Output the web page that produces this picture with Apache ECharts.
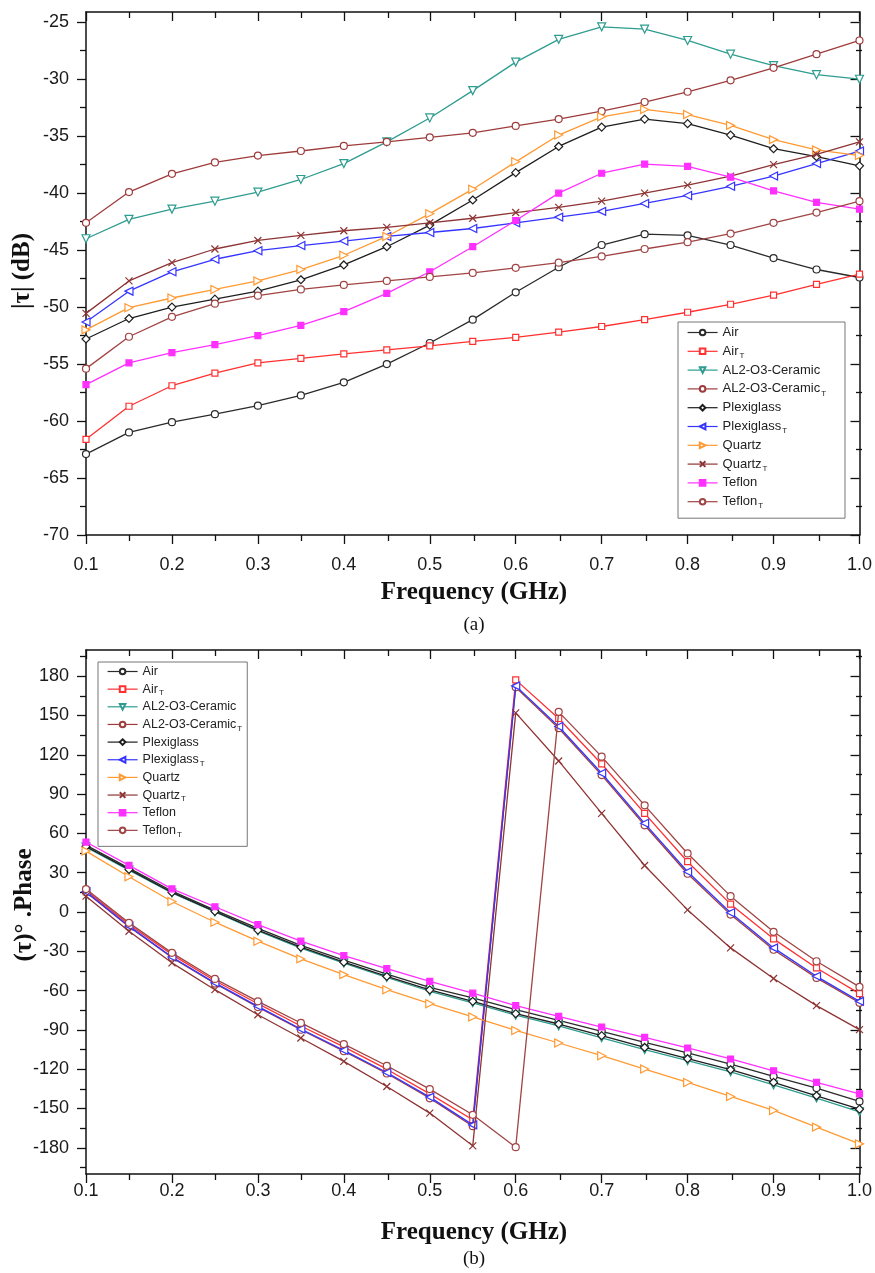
<!DOCTYPE html>
<html><head><meta charset="utf-8">
<script src="https://cdn.jsdelivr.net/npm/echarts@6/dist/echarts.min.js"></script>
<style>html,body{margin:0;padding:0;background:#fff}#c{width:875px;height:1273px}</style>
</head><body><div id="c"></div><script>
// ---------- data ----------
const freq = [0.1,0.15,0.2,0.25,0.3,0.35,0.4,0.45,0.5,0.55,0.6,0.65,0.7,0.75,0.8,0.85,0.9,0.95,1.0];

const seriesNames = ['Air','Air_T','AL2-O3-Ceramic','AL2-O3-Ceramic_T','Plexiglass','Plexiglass_T','Quartz','Quartz_T','Teflon','Teflon_T'];

// (a) |tau| in dB
const magAir        = [-62.9,-61.0,-60.1,-59.4,-58.65,-57.75,-56.6,-55.0,-53.15,-51.1,-48.7,-46.5,-44.55,-43.6,-43.7,-44.55,-45.7,-46.7,-47.4];
const magAirT       = [-61.6,-58.7,-56.9,-55.8,-54.9,-54.5,-54.1,-53.75,-53.4,-53.0,-52.65,-52.2,-51.7,-51.1,-50.45,-49.75,-48.95,-48.0,-47.1];
const magCeramic    = [-44.0,-42.3,-41.4,-40.7,-39.9,-38.8,-37.4,-35.5,-33.4,-31.0,-28.5,-26.5,-25.4,-25.6,-26.6,-27.8,-28.8,-29.6,-30.0];
const magCeramicT   = [-42.6,-39.9,-38.3,-37.3,-36.7,-36.3,-35.85,-35.5,-35.1,-34.7,-34.1,-33.5,-32.8,-32.0,-31.1,-30.1,-29.0,-27.8,-26.6];
const magPlexi      = [-52.8,-51.0,-50.0,-49.3,-48.6,-47.6,-46.3,-44.7,-42.8,-40.6,-38.2,-35.9,-34.2,-33.5,-33.9,-34.9,-36.1,-36.8,-37.6];
const magPlexiT     = [-51.3,-48.6,-46.9,-45.8,-45.05,-44.6,-44.2,-43.8,-43.45,-43.1,-42.6,-42.1,-41.6,-40.9,-40.2,-39.4,-38.5,-37.4,-36.3];
const magQuartz     = [-52.0,-50.05,-49.2,-48.45,-47.7,-46.7,-45.45,-43.8,-41.8,-39.65,-37.25,-34.9,-33.3,-32.65,-33.1,-34.05,-35.3,-36.2,-36.7];
const magQuartzT    = [-50.55,-47.7,-46.1,-44.9,-44.15,-43.7,-43.3,-43.0,-42.6,-42.2,-41.7,-41.25,-40.7,-40.0,-39.3,-38.5,-37.5,-36.6,-35.5];
const magTeflon     = [-56.8,-54.9,-54.0,-53.3,-52.5,-51.6,-50.4,-48.8,-46.9,-44.7,-42.4,-40.0,-38.25,-37.45,-37.65,-38.6,-39.8,-40.8,-41.4];
const magTeflonT    = [-55.4,-52.6,-50.85,-49.7,-49.0,-48.45,-48.05,-47.7,-47.35,-47.0,-46.55,-46.1,-45.55,-44.9,-44.3,-43.55,-42.6,-41.7,-40.7];

// (b) phase in degrees
const phAir         = [51.0,33.5,16.0,1.5,-12.5,-25.5,-36.8,-47.5,-57.5,-65.6,-74.5,-82.7,-91.1,-99.5,-107.6,-116.1,-125.5,-134.4,-144.6];
const phAirT        = [16.5,-9.5,-32.5,-52.5,-70.0,-87.0,-103.0,-120.0,-138.8,-158.6,177.2,147.7,113.0,75.3,38.4,6.0,-20.5,-42.7,-62.3];
const phCeramic     = [49.5,32.0,14.5,0.0,-14.5,-27.5,-39.0,-50.0,-60.5,-69.3,-78.8,-87.0,-96.0,-105.0,-113.5,-122.0,-132.0,-142.0,-152.5];
const phCeramicT    = [15.0,-11.2,-34.8,-54.6,-72.6,-89.9,-106.3,-123.3,-142.2,-163.5,171.5,140.3,104.5,66.2,29.2,-2.0,-28.8,-50.3,-69.3];
const phPlexi       = [50.0,32.5,15.0,0.5,-13.8,-26.8,-38.3,-49.2,-59.5,-68.2,-77.6,-85.5,-94.4,-103.4,-112.0,-120.4,-130.1,-140.3,-150.5];
const phPlexiT      = [15.5,-10.8,-34.3,-54.1,-72.0,-89.3,-105.6,-122.5,-141.3,-162.5,172.6,141.6,105.9,67.7,30.7,-0.6,-27.4,-49.1,-68.2];
const phQuartz      = [46.5,26.9,8.0,-7.8,-22.3,-35.8,-47.8,-59.3,-70.0,-80.1,-90.4,-100.0,-109.7,-119.9,-130.1,-140.8,-151.5,-164.2,-177.0];
const phQuartzT     = [12.1,-14.7,-38.8,-59.3,-78.4,-96.2,-114.0,-133.2,-153.5,-178.5,152.0,115.3,75.3,35.5,1.6,-27.4,-50.8,-71.5,-89.8];
const phTeflon      = [53.4,35.6,17.7,4.0,-9.6,-22.3,-33.3,-43.2,-52.9,-62.0,-71.5,-79.7,-87.8,-95.7,-103.8,-112.2,-121.2,-130.1,-138.8];
const phTeflonT     = [17.5,-8.3,-31.2,-51.1,-68.2,-84.7,-100.8,-117.4,-135.2,-154.8,-179.5,152.8,118.6,81.4,44.7,12.1,-15.1,-37.6,-57.2];

// tick labels
const freqTicks      = [0.1,0.2,0.3,0.4,0.5,0.6,0.7,0.8,0.9,1.0];
const freqMinorTicks = [0.15,0.25,0.35,0.45,0.55,0.65,0.75,0.85,0.95];
const magTicks       = [-70,-65,-60,-55,-50,-45,-40,-35,-30,-25];
const magMinorTicks  = [-67.5,-62.5,-57.5,-52.5,-47.5,-42.5,-37.5,-32.5,-27.5];
const phTicks        = [-180,-150,-120,-90,-60,-30,0,30,60,90,120,150,180];
const phMinorTicks   = [-195,-165,-135,-105,-75,-45,-15,15,45,75,105,135,165,195];

const magData = [magAir,magAirT,magCeramic,magCeramicT,magPlexi,magPlexiT,magQuartz,magQuartzT,magTeflon,magTeflonT];
const phData  = [phAir,phAirT,phCeramic,phCeramicT,phPlexi,phPlexiT,phQuartz,phQuartzT,phTeflon,phTeflonT];

// ---------- styles ----------
const colors  = ['#2b2b2b','#ff3030','#2f9c90','#9e3c3c','#1e1e1e','#3535ff','#ff9a33','#8e3434','#ff30ff','#a04444'];
const crossPath = 'path://M0,0L10,10M10,0L0,10';
const symbols = ['circle','rect','triangle','circle','diamond','triangle','triangle',crossPath,'rect','circle'];
const rotates = [0,0,180,0,0,90,-90,0,0,0];
const sizes   = [7,6,8,7,8,8,8,7,6,7];
const fills   = ['#fff','#fff','#fff','#fff','#fff','#fff','#fff','rgba(0,0,0,0)','#ff30ff','#fff'];

const SANS = '"Liberation Sans", Arial, sans-serif';
const SERIF = '"Liberation Serif", "Times New Roman", serif';

function makeSeries(vals, i, xi, yi) {
  return {
    type: 'line', name: seriesNames[i], xAxisIndex: xi, yAxisIndex: yi,
    data: freq.map((f, k) => [f, vals[k]]),
    symbol: symbols[i], symbolRotate: rotates[i], symbolSize: sizes[i],
    showAllSymbol: true, clip: true,
    lineStyle: { color: colors[i], width: 1.3 },
    itemStyle: { color: fills[i], borderColor: colors[i], borderWidth: 1.2 },
    emphasis: { disabled: true },
    z: 2 + i * 0.1
  };
}

function axis(kind, grid, pos, min, max, ticks, labels, inside, len, showLine, labelMargin, fmt) {
  return {
    type: 'value', gridIndex: grid, position: pos, min: min, max: max,
    axisLine: { show: showLine, onZero: false, lineStyle: { color: '#111', width: 1.5 } },
    axisTick: { show: true, inside: inside, length: len, customValues: ticks, lineStyle: { color: '#111', width: 1.3 } },
    axisLabel: labels ? { show: true, customValues: labels, margin: labelMargin, color: '#1a1a1a',
                          fontFamily: SANS, fontSize: 18, formatter: fmt } : { show: false },
    splitLine: { show: false }, minorTick: { show: false }, minorSplitLine: { show: false }
  };
}
const fmtF = v => Number(v).toFixed(1);
const fmtI = v => String(Math.round(v));

const X0 = 0.1, X1 = 1.0;
const MAGMIN = -70, MAGMAX = -24.1;
const PHMIN = -200, PHMAX = 200;

const xAxes = [
  axis('x',0,'bottom',X0,X1,freqTicks,freqTicks,false,9,true,21,fmtF),
  axis('x',0,'top',X0,X1,freqTicks,null,true,9,true),
  axis('x',1,'bottom',X0,X1,freqMinorTicks,null,false,6,false),
  axis('x',1,'top',X0,X1,freqMinorTicks,null,true,6,false),
  axis('x',2,'bottom',X0,X1,freqTicks,freqTicks,false,9,true,8,fmtF),
  axis('x',2,'top',X0,X1,freqTicks,null,true,9,true),
  axis('x',3,'bottom',X0,X1,freqMinorTicks,null,false,6,false),
  axis('x',3,'top',X0,X1,freqMinorTicks,null,true,6,false)
];
const yAxes = [
  axis('y',0,'left',MAGMIN,MAGMAX,magTicks,magTicks,false,9,true,17,fmtI),
  axis('y',0,'right',MAGMIN,MAGMAX,magTicks,null,true,9,true),
  axis('y',1,'left',MAGMIN,MAGMAX,magMinorTicks,null,false,6,false),
  axis('y',1,'right',MAGMIN,MAGMAX,magMinorTicks,null,true,6,false),
  axis('y',2,'left',PHMIN,PHMAX,phTicks,phTicks,false,9,true,17,fmtI),
  axis('y',2,'right',PHMIN,PHMAX,phTicks,null,true,9,true),
  axis('y',3,'left',PHMIN,PHMAX,phMinorTicks,null,false,6,false),
  axis('y',3,'right',PHMIN,PHMAX,phMinorTicks,null,true,6,false)
];

const series = [];
magData.forEach((d, i) => series.push(makeSeries(d, i, 0, 0)));
phData.forEach((d, i) => series.push(makeSeries(d, i, 4, 4)));

function legendFmt(name) {
  if (name.endsWith('_T')) return '{n|' + name.slice(0, -2) + '}{s|T}';
  return '{n|' + name + '}';
}
function legendRich(fs, lh) {
  return {
    n: { fontFamily: SANS, fontSize: fs, color: '#222', lineHeight: lh },
    s: { fontFamily: SANS, fontSize: 8, color: '#222', lineHeight: lh, padding: [Math.round(lh*0.55), 0, 0, 1] }
  };
}

const option = {
  backgroundColor: '#fff',
  animation: false,
  grid: [
    { left: 86, right: 13, top: 12, height: 523 },
    { left: 86, right: 13, top: 12, height: 523 },
    { left: 86, right: 13, top: 650, height: 524 },
    { left: 86, right: 13, top: 650, height: 524 }
  ],
  xAxis: xAxes,
  yAxis: yAxes,
  legend: [
    {
      data: seriesNames, orient: 'vertical', left: 678, top: 322,
      itemWidth: 30, itemHeight: 7, itemGap: 3.8, padding: [4, 19, 8, 9],
      backgroundColor: '#fff', borderColor: '#777', borderWidth: 1,
      selectedMode: false, formatter: legendFmt,
      lineStyle: { width: 1.2 },
      textStyle: { fontFamily: SANS, fontSize: 13, color: '#222', rich: legendRich(13, 16) }
    },
    {
      data: seriesNames, orient: 'vertical', left: 98, top: 662,
      itemWidth: 30, itemHeight: 7, itemGap: 3.15, padding: [3, 5, 8, 9],
      backgroundColor: '#fff', borderColor: '#777', borderWidth: 1,
      selectedMode: false, formatter: legendFmt,
      lineStyle: { width: 1.2 },
      textStyle: { fontFamily: SANS, fontSize: 12.5, color: '#222', rich: legendRich(12.5, 15) }
    }
  ],
  graphic: [
    { type: 'text', x: 474, y: 593, style: { text: 'Frequency (GHz)', font: 'bold 25px ' + SERIF, fill: '#111', align: 'center', verticalAlign: 'middle' } },
    { type: 'text', x: 474, y: 625, style: { text: '(a)', font: '19px ' + SERIF, fill: '#111', align: 'center', verticalAlign: 'middle' } },
    { type: 'text', x: 23, y: 271, rotation: Math.PI / 2, style: { text: '|τ| (dB)', font: 'bold 25px ' + SERIF, fill: '#111', align: 'center', verticalAlign: 'middle' } },
    { type: 'text', x: 474, y: 1233, style: { text: 'Frequency (GHz)', font: 'bold 25px ' + SERIF, fill: '#111', align: 'center', verticalAlign: 'middle' } },
    { type: 'text', x: 474, y: 1259, style: { text: '(b)', font: '19px ' + SERIF, fill: '#111', align: 'center', verticalAlign: 'middle' } },
    { type: 'text', x: 25, y: 905, rotation: Math.PI / 2, style: { text: '(τ)° .Phase', font: 'bold 25px ' + SERIF, fill: '#111', align: 'center', verticalAlign: 'middle' } }
  ],
  series: series
};

const chart = echarts.init(document.getElementById('c'), null, { renderer: 'canvas', width: 875, height: 1273 });
chart.setOption(option);
</script></body></html>
